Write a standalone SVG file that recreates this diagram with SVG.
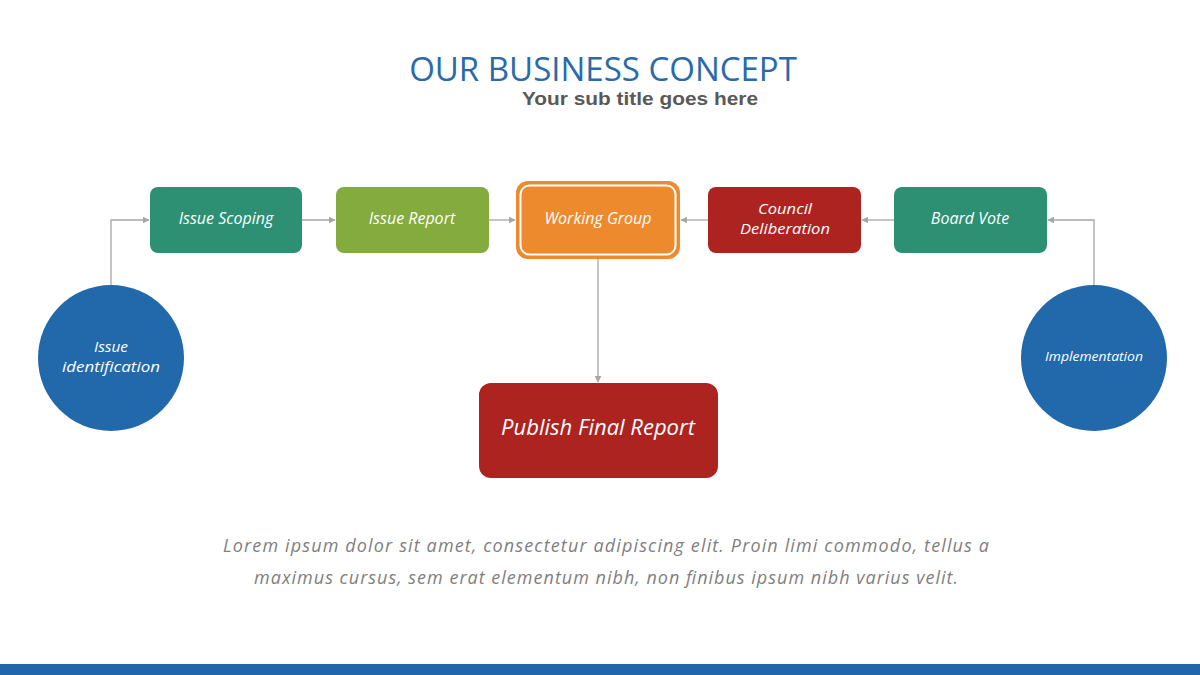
<svg xmlns="http://www.w3.org/2000/svg" width="1200" height="675" viewBox="0 0 1200 675">
<defs>
<style>
.hand{font-family:"Open Sans","Noto Sans","DejaVu Sans",sans-serif;font-style:italic;fill:#ffffff;text-anchor:middle;}
.lbl{font-size:16px;}
.lbl2{font-size:14.5px;}
.conn{stroke:#a6a6a6;stroke-width:1.3;fill:none;marker-end:url(#arr);}
</style>
<marker id="arr" viewBox="0 0 10 10" refX="9" refY="5" markerWidth="7" markerHeight="7" orient="auto" markerUnits="userSpaceOnUse">
<path d="M0,0 L10,5 L0,10 z" fill="#a6a6a6"/>
</marker>
</defs>
<rect x="0" y="0" width="1200" height="675" fill="#ffffff"/>
<g id="title">
<text x="603" y="81" font-family="'Open Sans','Noto Sans',sans-serif" font-size="33" fill="#2a6aaa" text-anchor="middle">OUR BUSINESS CONCEPT</text>
<text x="640" y="105" font-family="'Liberation Sans',Arial,sans-serif" font-size="18" font-weight="bold" fill="#595959" text-anchor="middle" textLength="236" lengthAdjust="spacingAndGlyphs">Your sub title goes here</text>
</g>
<g id="connectors">
<polyline class="conn" points="111,285 111,220 149,220"/>
<line class="conn" x1="302" y1="220" x2="335" y2="220"/>
<line class="conn" x1="489" y1="220" x2="515" y2="220"/>
<line class="conn" x1="708" y1="220" x2="681" y2="220"/>
<line class="conn" x1="894" y1="220" x2="862" y2="220"/>
<polyline class="conn" points="1094,285 1094,220 1048,220"/>
<line class="conn" x1="598" y1="259" x2="598" y2="382"/>
</g>
<g id="issue-identification">
<circle cx="111" cy="358" r="73" fill="#2269ab"/>
<text class="hand lbl2" x="111" y="352" textLength="34" lengthAdjust="spacingAndGlyphs">Issue</text>
<text class="hand lbl2" x="111" y="372" textLength="98" lengthAdjust="spacingAndGlyphs">identification</text>
</g>
<g id="issue-scoping">
<rect x="150" y="187" width="152" height="66" rx="8" fill="#2d9073"/>
<text class="hand lbl" x="226" y="224">Issue Scoping</text>
</g>
<g id="issue-report">
<rect x="336" y="187" width="153" height="66" rx="8" fill="#83ab3d"/>
<text class="hand lbl" x="412" y="224">Issue Report</text>
</g>
<g id="working-group">
<rect x="516" y="181" width="164" height="78" rx="12" fill="#ec8a2d"/>
<rect x="520.5" y="185.5" width="155" height="69" rx="9" fill="none" stroke="#ffffff" stroke-width="2"/>
<text class="hand lbl" x="598" y="224">Working Group</text>
</g>
<g id="council-deliberation">
<rect x="708" y="187" width="153" height="66" rx="8" fill="#ad2320"/>
<text class="hand lbl2" x="785" y="214" textLength="54" lengthAdjust="spacingAndGlyphs">Council</text>
<text class="hand lbl2" x="785" y="234" textLength="90" lengthAdjust="spacingAndGlyphs">Deliberation</text>
</g>
<g id="board-vote">
<rect x="894" y="187" width="153" height="66" rx="8" fill="#2d9073"/>
<text class="hand lbl" x="970" y="224">Board Vote</text>
</g>
<g id="implementation">
<circle cx="1094" cy="358" r="73" fill="#2269ab"/>
<text class="hand" x="1094" y="361" font-size="13" textLength="98" lengthAdjust="spacingAndGlyphs">Implementation</text>
</g>
<g id="publish-final-report">
<rect x="479" y="383" width="239" height="95" rx="12" fill="#ad2320"/>
<text class="hand" x="598" y="435" font-size="22">Publish Final Report</text>
</g>
<g id="body-text" font-family="'Open Sans','Noto Sans',sans-serif" font-style="italic" font-size="18" fill="#7f7f7f" text-anchor="middle">
<text x="606" y="552" textLength="766" lengthAdjust="spacing">Lorem ipsum dolor sit amet, consectetur adipiscing elit. Proin  limi commodo, tellus a</text>
<text x="606" y="584" textLength="704" lengthAdjust="spacing">maximus cursus, sem erat elementum nibh, non finibus ipsum nibh varius velit.</text>
</g>
<rect x="0" y="664" width="1200" height="11" fill="#2166aa"/>
</svg>
